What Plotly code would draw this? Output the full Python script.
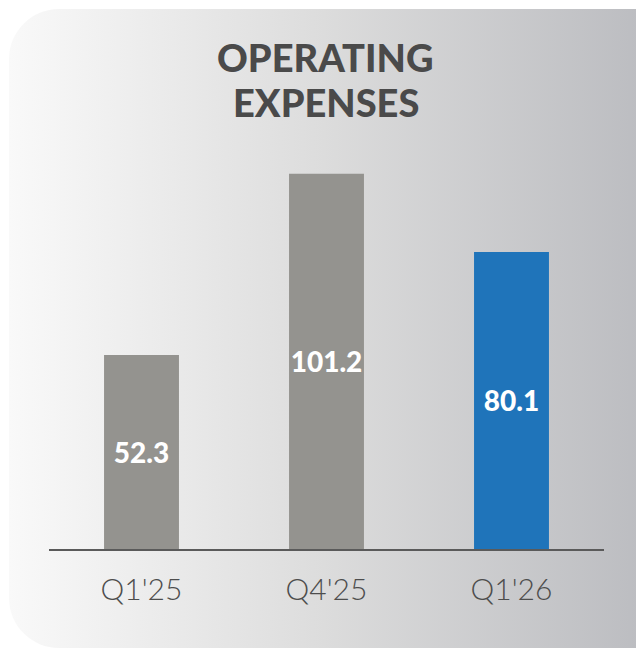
import base64
import plotly.graph_objects as go

categories = ["Q1'25", "Q4'25", "Q1'26"]
values = [52.3, 101.2, 80.1]
value_labels = ["52.3", "101.2", "80.1"]
bar_colors = ["#94938f", "#94938f", "#1f74ba"]
title_lines = ["OPERATING", "EXPENSES"]

W, H = 636, 650
ML, MR, MT, MB = 49, 32, 141, 101
PW, PH = W - ML - MR, H - MT - MB

svg = f'''<svg xmlns="http://www.w3.org/2000/svg" width="{W}" height="{H}" viewBox="0 0 {W} {H}">
<defs><linearGradient id="g" gradientUnits="userSpaceOnUse" x1="9" y1="0" x2="640" y2="0">
<stop offset="0" stop-color="#f9f9f9"/><stop offset="0.5" stop-color="#dcdcdc"/><stop offset="1" stop-color="#bcbdc1"/>
</linearGradient></defs>
<rect x="0" y="0" width="{W}" height="{H}" fill="#ffffff"/>
<rect x="9" y="9" width="680" height="639" rx="50" ry="50" fill="url(#g)"/>
</svg>'''
uri = "data:image/svg+xml;base64," + base64.b64encode(svg.encode()).decode()

fig = go.Figure()
fig.add_trace(go.Bar(
    x=categories, y=values,
    marker=dict(color=bar_colors, line=dict(width=0)),
    width=0.405,
    text=value_labels,
    textposition="inside",
    insidetextanchor="middle",
    textangle=0,
    constraintext="none",
    textfont=dict(family="Lato", size=28, color="white", weight=900),
    hoverinfo="skip",
))

def py_to_paper(py):
    return (H - MB - py) / PH

annotations = []
for line, py in zip(title_lines, [56.5, 102.5]):
    annotations.append(dict(
        text=line, x=(325.5 - ML) / PW, y=py_to_paper(py), xref="paper", yref="paper",
        xanchor="center", yanchor="middle", showarrow=False,
        font=dict(family="Lato", size=38, color="#4a4a4a", weight=900),
    ))

fig.update_layout(
    width=W, height=H,
    margin=dict(l=ML, r=MR, t=MT, b=MB, pad=0),
    paper_bgcolor="white",
    plot_bgcolor="rgba(0,0,0,0)",
    showlegend=False,
    uniformtext=dict(minsize=28, mode="show"),
    annotations=annotations,
    images=[dict(
        source=uri, xref="paper", yref="paper",
        x=-ML / PW, y=1 + MT / PH, sizex=W / PW, sizey=H / PH,
        xanchor="left", yanchor="top", sizing="stretch", layer="below",
    )],
    xaxis=dict(
        range=[-0.5, 2.5], showgrid=False, zeroline=False,
        showline=True, linecolor="#5a5a5a", linewidth=2,
        ticks="", ticklabelstandoff=13,
        tickfont=dict(family="Lato", size=30, color="#4d4d4d", weight=300),
    ),
    yaxis=dict(range=[0, 110], visible=False, showgrid=False, zeroline=False),
)

fig.write_html("out.html", config={"displayModeBar": False},
               post_script="document.body.style.margin='0px';")
